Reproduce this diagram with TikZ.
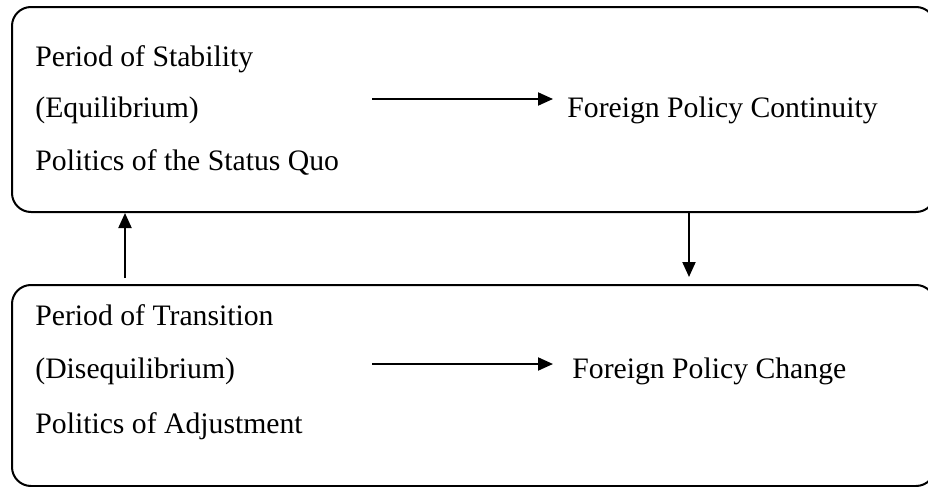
\documentclass[tikz,border=0pt]{standalone}
\usepackage{fontspec}
\setmainfont{Liberation Serif}
\usetikzlibrary{arrows.meta}

\begin{document}
\begin{tikzpicture}[x=0.5pt,y=-0.5pt,
	box/.style={draw,line width=1pt,rounded corners=9.5pt,minimum width=461.5pt,inner sep=0pt},
	txt/.style={anchor=base west,inner sep=0pt,font=\fontsize{14.85}{18}\selectfont},
	arr/.style={-{Triangle[length=7.5pt,width=6.5pt]},line width=1pt}]
		\useasboundingbox (0,0) rectangle (928,487);
		\clip (0,0) rectangle (928,487);
		% the two periods
		\node[box,minimum height=102.5pt](stab) at (473.5,109.5) {};
		\node[box,minimum height=100.5pt](trans) at (473.5,385.5) {};
		\node[txt](stab1) at (35,67) {Period of Stability};
		\node[txt](stab2) at (35,118) {(Equilibrium)};
		\node[txt](stab3) at (35,170) {Politics of the Status Quo};
		\node[txt](cont) at (567,117) {Foreign Policy Continuity};
		\node[txt](trans1) at (35,325) {Period of Transition};
		\node[txt](trans2) at (35,378) {(Disequilibrium)};
		\node[txt](trans3) at (35,433) {Politics of Adjustment};
		\node[txt](chg) at (572,378) {Foreign Policy Change};
		% arrows
		\coordinate (s1) at (372,99);
		\coordinate (e1) at (553,99);
		\coordinate (s2) at (372,364);
		\coordinate (e2) at (553,364);
		\coordinate (up) at (125,278);
		\coordinate (dn) at (689,277);
		\draw[arr] (s1) -- (e1);
		\draw[arr] (s2) -- (e2);
		\draw[arr] (up) -- (up |- stab.south);
		\draw[arr] (dn |- stab.south) -- (dn);
\end{tikzpicture}
\end{document}
